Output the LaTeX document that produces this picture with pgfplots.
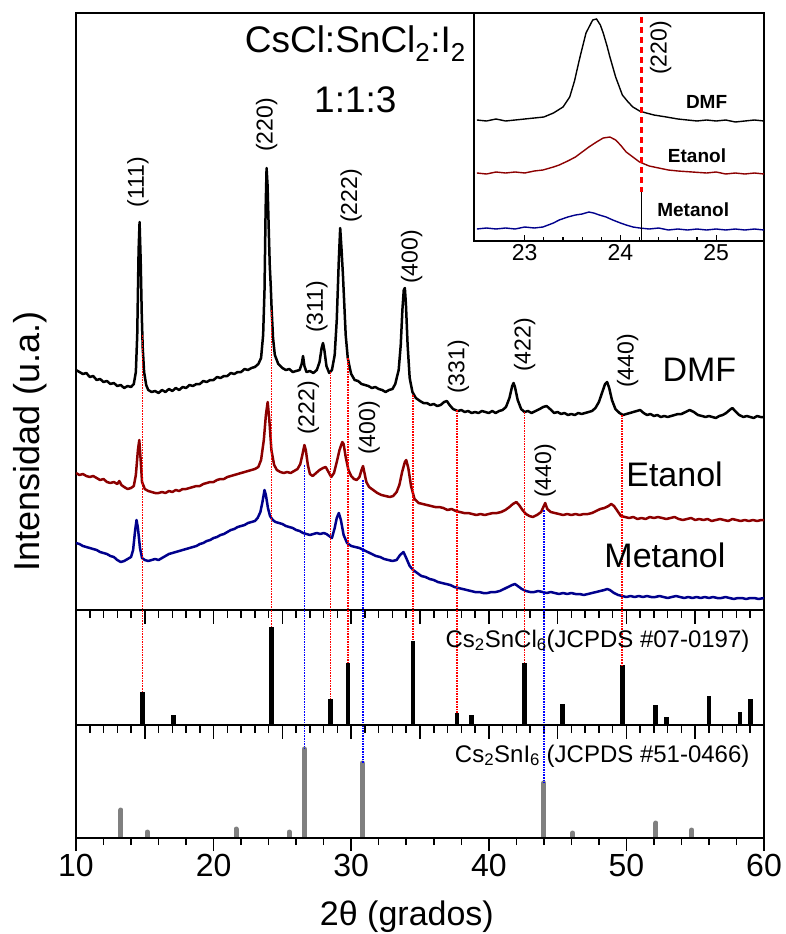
\documentclass[border=0pt]{standalone}
\usepackage{pgfplots}
\pgfplotsset{compat=1.18}
\usepackage{pgfplotstable}
\usepackage{fontspec}
\setmainfont{Liberation Sans}
\definecolor{etanol}{RGB}{140,0,0}
\definecolor{metanol}{RGB}{0,0,140}
\definecolor{refgray}{RGB}{128,128,128}
\definecolor{marker}{RGB}{255,0,0}
\newcommand{\fs}[1]{\fontsize{#1}{#1}\selectfont}

% XRD patterns (2theta, intensity in a.u., curves stacked with offsets)
\pgfplotstableread{
x y
10.0 240
10.25 238
10.5 236
10.75 237
11.0 233
11.25 234
11.5 230
11.75 231
12.0 228
12.25 229
12.5 226
12.75 227
13.0 224
13.25 225
13.5 222
13.75 224
14.0 223
14.2 226
14.35 238
14.45 275
14.55 360
14.62 388
14.7 350
14.78 295
14.85 262
14.95 238
15.1 225
15.25 220
15.5 218
15.75 219
16.0 217
16.25 220
16.5 218
16.75 221
17.0 219
17.25 222
17.5 220
17.75 223
18.0 222
18.25 225
18.5 224
18.75 226
19.0 226
19.25 229
19.5 228
19.75 230
20.0 230
20.25 233
20.5 232
20.75 234
21.0 234
21.25 237
21.5 236
21.75 238
22.0 238
22.25 241
22.5 240
22.75 242
23.0 243
23.25 246
23.45 252
23.6 275
23.7 320
23.78 400
23.85 442
23.92 425
24.0 385
24.08 345
24.15 325
24.22 300
24.32 272
24.45 255
24.7 246
25.0 242
25.25 240
25.5 241
25.75 238
26.0 239
26.25 240
26.4 246
26.5 254
26.6 244
26.75 238
27.0 239
27.25 237
27.5 240
27.7 248
27.85 262
27.95 267
28.05 260
28.2 244
28.4 237
28.6 240
28.8 255
28.95 290
29.1 350
29.2 382
29.3 360
29.4 335
29.5 305
29.6 275
29.75 252
29.9 242
30.0 236
30.25 230
30.5 229
30.75 226
31.0 225
31.25 224
31.5 222
31.75 223
32.0 221
32.25 220
32.5 218
32.75 220
33.0 221
33.2 226
33.45 240
33.6 265
33.72 300
33.82 320
33.9 322
33.98 305
34.1 265
34.25 232
34.45 218
34.7 212
35.0 209
35.25 207
35.5 207
35.75 205
36.0 206
36.25 204
36.5 205
36.75 208
36.95 209
37.15 205
37.4 201
37.75 199
38.0 200
38.25 198
38.5 199
38.75 197
39.0 198
39.25 197
39.5 199
39.75 198
40.0 197
40.25 199
40.5 197
40.75 199
41.0 200
41.25 203
41.5 212
41.7 224
41.8 227
41.9 223
42.1 210
42.35 201
42.6 198
42.85 199
43.1 197
43.4 199
43.7 201
43.95 203
44.2 204
44.45 201
44.75 197
45.0 198
45.25 196
45.5 197
45.75 195
46.0 196
46.25 195
46.5 197
46.75 196
47.0 197
47.25 198
47.5 199
47.75 202
48.0 208
48.25 218
48.45 226
48.6 228
48.75 222
48.95 210
49.2 201
49.5 197
49.75 195
50.0 196
50.25 197
50.5 198
50.75 199
51.0 200
51.25 197
51.5 195
51.75 196
52.0 194
52.25 195
52.5 193
52.75 194
53.0 193
53.25 194
53.5 195
53.75 196
54.0 196
54.3 198
54.6 200
54.9 198
55.2 195
55.5 194
55.75 193
56.0 194
56.25 193
56.5 192
56.75 194
57.0 195
57.25 197
57.5 200
57.7 202
57.9 199
58.2 195
58.5 193
58.75 194
59.0 193
59.25 192
59.5 194
59.75 193
60.0 193
}\dmf

\pgfplotstableread{
x y
10.0 137
10.25 135
10.5 136
10.75 134
11.0 133
11.25 134
11.5 132
11.75 130
12.0 131
12.25 128
12.5 127
12.75 128
13.0 126
13.15 129
13.3 125
13.5 123
13.75 121
14.0 122
14.2 124
14.35 135
14.5 160
14.6 170
14.7 150
14.8 128
15.0 121
15.25 119
15.5 118
15.75 117
16.0 117
16.25 118
16.5 117
16.75 119
17.0 118
17.25 120
17.5 119
17.75 121
18.0 121
18.25 122
18.5 123
18.75 124
19.0 124
19.25 126
19.5 127
19.75 128
20.0 128
20.25 130
20.5 131
20.75 131
21.0 133
21.25 134
21.5 135
21.75 136
22.0 137
22.25 138
22.5 139
22.75 140
23.0 141
23.25 143
23.45 150
23.65 170
23.8 195
23.93 208
24.05 190
24.2 160
24.4 145
24.6 140
24.85 138
25.1 137
25.35 138
25.6 137
25.85 139
26.1 141
26.3 146
26.45 155
26.6 165
26.7 160
26.85 145
27.0 136
27.2 134
27.45 137
27.7 140
27.95 142
28.15 143
28.35 138
28.55 133
28.75 137
28.95 148
29.15 160
29.35 168
29.45 166
29.6 153
29.8 140
30.0 134
30.2 131
30.4 130
30.6 133
30.75 140
30.86 144
30.95 138
31.1 128
31.3 123
31.6 120
31.9 117
32.2 115
32.5 114
32.8 113
33.05 114
33.3 118
33.5 125
33.7 138
33.9 148
34.0 150
34.15 142
34.35 124
34.6 111
34.9 107
35.2 106
35.5 105
35.8 104
36.1 103
36.4 103
36.7 102
37.0 100
37.3 101
37.6 99
37.9 98
38.2 97
38.5 97
38.8 96
39.1 95
39.4 96
39.7 95
40.0 96
40.3 97
40.6 97
40.9 98
41.2 100
41.5 103
41.75 106
42.0 108
42.2 105
42.45 100
42.7 96
42.95 94
43.2 93
43.5 95
43.8 98
44.0 104
44.1 107
44.25 101
44.5 98
44.8 97
45.1 96
45.4 95
45.7 96
46.0 95
46.3 96
46.6 95
46.9 96
47.2 96
47.5 97
47.8 99
48.1 101
48.4 102
48.7 104
48.9 106
49.1 104
49.35 99
49.6 94
49.9 93
50.2 92
50.5 93
50.8 91
51.1 92
51.4 91
51.7 93
52.0 92
52.3 93
52.6 92
52.9 91
53.2 92
53.5 93
53.8 91
54.1 90
54.4 91
54.7 92
55.0 90
55.3 91
55.6 90
55.9 91
56.2 89
56.5 90
56.8 91
57.1 90
57.4 89
57.7 91
58.0 90
58.3 89
58.6 90
58.9 89
59.2 90
59.5 89
59.8 90
60.0 90
}\etanol

\pgfplotstableread{
x y
10.0 67
10.25 66
10.5 64
10.75 63
11.0 62
11.25 61
11.5 60
11.75 58
12.0 57
12.25 56
12.5 54
12.75 53
13.0 50
13.25 48
13.5 49
13.75 51
14.0 53
14.15 60
14.3 80
14.4 90
14.5 82
14.65 62
14.8 52
15.0 50
15.25 49
15.5 50
15.75 51
16.0 50
16.25 52
16.5 54
16.75 56
17.0 57
17.25 58
17.5 59
17.75 60
18.0 61
18.25 62
18.5 63
18.75 64
19.0 66
19.25 67
19.5 69
19.75 70
20.0 72
20.25 73
20.5 75
20.75 76
21.0 78
21.25 80
21.5 81
21.75 83
22.0 84
22.25 85
22.5 87
22.75 88
23.0 89
23.2 92
23.4 98
23.55 108
23.7 120
23.8 115
23.95 102
24.1 94
24.3 90
24.5 88
24.75 87
25.0 86
25.25 84
25.5 83
25.75 82
26.0 80
26.25 79
26.5 77
26.75 76
27.0 75
27.25 76
27.5 77
27.75 76
28.0 77
28.2 76
28.4 74
28.6 72
28.8 82
28.95 92
29.1 97
29.25 90
29.45 75
29.7 67
30.0 64
30.3 63
30.6 62
30.9 60
31.2 58
31.5 56
31.8 54
32.1 53
32.4 51
32.7 50
33.0 49
33.3 50
33.55 55
33.8 58
34.0 52
34.25 44
34.5 40
34.8 37
35.1 34
35.4 33
35.7 31
36.0 30
36.3 28
36.6 27
36.9 26
37.2 25
37.5 23
37.8 22
38.1 21
38.4 20
38.7 19
39.0 18
39.3 18
39.6 17
39.9 17
40.2 18
40.5 18
40.8 19
41.1 21
41.4 23
41.7 25
41.9 26
42.1 24
42.4 21
42.7 19
43.0 18
43.3 18
43.6 19
43.9 18
44.2 17
44.5 18
44.8 17
45.1 16
45.4 17
45.7 16
46.0 17
46.3 16
46.6 16
46.9 15
47.2 16
47.5 17
47.8 18
48.1 19
48.4 20
48.6 21
48.8 20
49.1 17
49.4 15
49.7 14
50.0 13
50.3 14
50.6 13
50.9 14
51.2 13
51.5 14
51.8 13
52.1 13
52.4 14
52.7 13
53.0 12
53.3 13
53.6 14
53.9 13
54.2 12
54.5 13
54.8 12
55.1 13
55.4 12
55.7 13
56.0 12
56.3 13
56.6 12
56.9 12
57.2 13
57.5 12
57.8 11
58.1 12
58.4 12
58.7 11
59.0 12
59.3 12
59.6 11
60.0 12
}\metanol

% Reference patterns (2theta, relative intensity)
\pgfplotstableread{
x y
14.82 33
17.07 10
24.22 98
28.50 26
29.75 62
34.50 84
37.70 12
38.75 10
42.60 62
45.37 21
49.70 60
52.13 20
52.90 8
56.00 29
58.26 13
59.03 26
}\refcl

\pgfplotstableread{
x y
13.27 28
15.18 6
21.63 9
25.50 6
26.60 89
30.80 75
44.00 55
46.09 5
52.15 15
54.75 8
}\refi

% Detail of the (220) reflection
\pgfplotstableread{
x y
22.5 121
22.6 120
22.7 122
22.8 120
22.9 121
23.0 122
23.1 123
23.2 124
23.3 128
23.4 134
23.47 144
23.52 160
23.57 181
23.64 208
23.71 221
23.75 222
23.79 216
23.82 208
23.86 195
23.89 184
23.95 164
24.02 146
24.08 139
24.13 134
24.2 130
24.27 128
24.35 126
24.48 124
24.6 122
24.7 121
24.8 120
24.9 121
25.0 120
25.1 121
25.2 119
25.3 120
25.4 121
25.5 120
}\dmfz

\pgfplotstableread{
x y
22.5 68
22.6 67
22.7 69
22.8 68
22.9 69
23.0 68
23.1 70
23.19 71
23.3 74
23.36 76
23.45 80
23.53 84
23.6 89
23.67 94
23.75 99
23.82 103
23.89 104
23.95 101
24.0 96
24.06 89
24.13 84
24.2 79
24.3 75
24.4 73
24.5 71
24.6 70
24.75 69
24.9 68
25.0 69
25.1 67
25.2 68
25.3 67
25.4 68
25.5 67
}\etanolz

\pgfplotstableread{
x y
22.5 12
22.6 13
22.7 12
22.8 13
22.9 12
23.0 14
23.1 13
23.19 14
23.3 18
23.36 21
23.45 24
23.53 26
23.6 27
23.67 29
23.72 28
23.78 26
23.85 24
23.92 21
24.0 18
24.06 16
24.13 14
24.2 13
24.3 12
24.4 13
24.5 11
24.6 12
24.7 11
24.8 12
24.9 11
25.0 12
25.1 11
25.2 12
25.3 11
25.4 12
25.5 11
}\metanolz

\tikzset{
  hkl/.style={font=\fs{23}, rotate=90, anchor=center},
  redl/.style={color=marker, densely dotted, line width=1.6pt},
  bluel/.style={blue, densely dotted, line width=1.6pt},
}
\pgfplotsset{
  panel/.style={scale only axis, width=688pt, xmin=10, xmax=60,
    axis line style={line width=1.8pt}, clip mode=individual,
    /pgf/number format/assume math mode=true},
  reftop/.style={xtick={10,15,...,60}, minor x tick num=4, xtick pos=right,
    tick align=inside, xticklabels=\empty, ytick=\empty,
    major tick length=14pt, minor tick length=8pt,
    every tick/.style={line width=1.5pt, black}},
}

\begin{document}
\begin{tikzpicture}
\path[use as bounding box] (0pt,0pt) rectangle (786pt,-934pt);

% ---------- measured patterns ----------
\begin{axis}[panel, at={(76pt,-610pt)}, anchor=south west, height=597pt,
  ymin=0, ymax=597, xtick=\empty, ytick=\empty,
  ylabel={Intensidad (u.a.)},
  ylabel style={at={(axis description cs:-0.067,0.283)}, anchor=center, font=\fs{36}}]
\addplot[black, line width=2.5pt, line join=round] table {\dmf};
\addplot[etanol, line width=2.5pt, line join=round] table {\etanol};
\addplot[metanol, line width=2.5pt, line join=round] table {\metanol};
% Cs2SnCl6 positions
\addplot[redl] coordinates {(14.82,275) (14.82,0)};
\addplot[redl] coordinates {(24.22,300) (24.22,0)};
\addplot[redl] coordinates {(28.50,238) (28.50,0)};
\addplot[redl] coordinates {(29.75,252) (29.75,0)};
\addplot[redl] coordinates {(34.50,215) (34.50,0)};
\addplot[redl] coordinates {(37.70,200) (37.70,0)};
\addplot[redl] coordinates {(42.60,198) (42.60,0)};
\addplot[redl] coordinates {(49.70,195) (49.70,0)};
% Cs2SnI6 positions
\addplot[bluel] coordinates {(26.60,145) (26.60,0)};
\addplot[bluel] coordinates {(30.85,130) (30.85,0)};
\addplot[bluel] coordinates {(44.00,100) (44.00,0)};

\node[hkl] at (axis cs:14.5,428) {(111)};
\node[hkl] at (axis cs:23.86,485) {(220)};
\node[hkl] at (axis cs:27.5,303) {(311)};
\node[hkl] at (axis cs:30.0,414) {(222)};
\node[hkl] at (axis cs:34.4,353) {(400)};
\node[hkl] at (axis cs:37.8,243) {(331)};
\node[hkl] at (axis cs:42.6,265) {(422)};
\node[hkl] at (axis cs:50.1,249) {(440)};
\node[hkl] at (axis cs:26.9,202) {(222)};
\node[hkl] at (axis cs:31.3,182) {(400)};
\node[hkl] at (axis cs:44.1,139) {(440)};

\node[font=\fs{34}] at (axis cs:55.3,240) {DMF};
\node[font=\fs{34}] at (axis cs:53.5,136) {Etanol};
\node[font=\fs{34}] at (axis cs:52.8,55) {Metanol};

\node[font=\fs{37}, anchor=base] at (axis cs:30.3,558) {CsCl:SnCl\textsubscript{2}:I\textsubscript{2}};
\node[font=\fs{37}, anchor=base] at (axis cs:30.3,498) {1:1:3};
\end{axis}

% ---------- Cs2SnCl6 reference ----------
\begin{axis}[panel, reftop, at={(76pt,-725pt)}, anchor=south west, height=115pt,
  ymin=0, ymax=115]
\addplot[ycomb, black, line width=4.5pt] table {\refcl};
\addplot[redl] coordinates {(14.82,115) (14.82,33)};
\addplot[redl] coordinates {(24.22,115) (24.22,98)};
\addplot[redl] coordinates {(28.50,115) (28.50,26)};
\addplot[redl] coordinates {(29.75,115) (29.75,62)};
\addplot[redl] coordinates {(34.50,115) (34.50,84)};
\addplot[redl] coordinates {(37.70,115) (37.70,12)};
\addplot[redl] coordinates {(42.60,115) (42.60,62)};
\addplot[redl] coordinates {(49.70,115) (49.70,60)};
\addplot[bluel] coordinates {(26.60,115) (26.60,0)};
\addplot[bluel] coordinates {(30.85,115) (30.85,0)};
\addplot[bluel] coordinates {(44.00,115) (44.00,0)};
\node[font=\fs{24}, anchor=east] at (axis cs:59.2,84) {Cs\textsubscript{2}SnCl\textsubscript{6}(JCPDS \#07-0197)};
\end{axis}

% ---------- Cs2SnI6 reference ----------
\begin{axis}[panel, reftop, at={(76pt,-838pt)}, anchor=south west, height=113pt,
  ymin=0, ymax=113]
\addplot[ycomb, refgray, line width=5pt, line cap=round] table {\refi};
\addplot[bluel] coordinates {(26.60,113) (26.60,89)};
\addplot[bluel] coordinates {(30.85,113) (30.85,75)};
\addplot[bluel] coordinates {(44.00,113) (44.00,55)};
\node[font=\fs{24}, anchor=east] at (axis cs:59.2,82) {Cs\textsubscript{2}SnI\textsubscript{6} (JCPDS \#51-0466)};
\end{axis}

% bottom scale
\begin{axis}[panel, at={(76pt,-838pt)}, anchor=south west, height=113pt,
  ymin=0, ymax=113, ytick=\empty, xtick={10,20,...,60}, minor x tick num=4,
  xtick pos=left, tick align=outside, major tick length=13pt, minor tick length=7pt,
  every tick/.style={line width=1.5pt, black},
  xticklabel style={font=\fs{32}},
  xlabel={2θ (grados)},
  xlabel style={at={(axis description cs:0.481,0)}, anchor=base, yshift=-87pt, font=\fs{34}}]
\end{axis}

% ---------- inset: (220) reflection ----------
\begin{axis}[scale only axis, at={(474pt,-241pt)}, anchor=south west, width=290pt, height=228pt,
  xmin=22.47, xmax=25.5, ymin=0, ymax=228, ytick=\empty, xtick={23,24,25},
  minor x tick num=4, xtick pos=left, tick align=inside,
  major tick length=6pt, minor tick length=4pt,
  axis line style={line width=1.4pt}, every tick/.style={line width=1.2pt, black},
  axis background/.style={fill=white}, clip mode=individual,
  /pgf/number format/assume math mode=true,
  xticklabel style={font=\fs{23}}]
\addplot[black, line width=1.4pt] table {\dmfz};
\addplot[etanol, line width=1.4pt] table {\etanolz};
\addplot[metanol, line width=1.4pt] table {\metanolz};
\addplot[color=marker, line width=2.4pt, dash pattern=on 6pt off 4pt] coordinates {(24.22,224) (24.22,49)};
\addplot[black, line width=1.4pt] coordinates {(24.22,49) (24.22,0)};
\node[font=\fs{23}, rotate=90] at (axis cs:24.42,193) {(220)};
\node[font=\bfseries\fs{19}] at (axis cs:24.9,139) {DMF};
\node[font=\bfseries\fs{19}] at (axis cs:24.8,85) {Etanol};
\node[font=\bfseries\fs{19}] at (axis cs:24.76,31) {Metanol};
\end{axis}
\end{tikzpicture}
\end{document}
